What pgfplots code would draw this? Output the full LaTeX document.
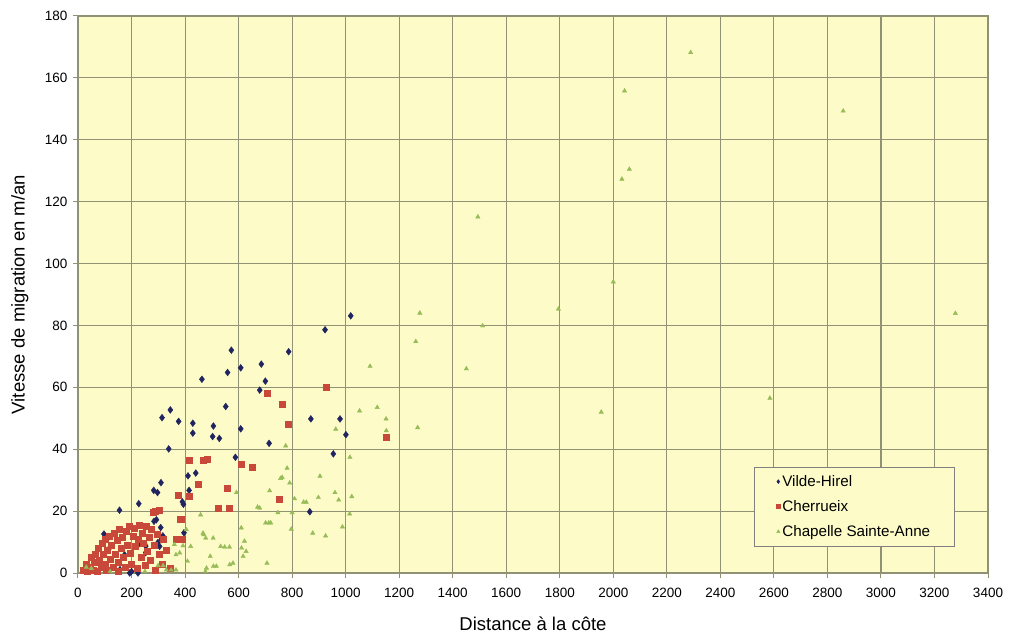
\documentclass[border=0pt]{standalone}
\usepackage{fontspec}
\setmainfont{Liberation Sans}
\usepackage{pgfplots}
\pgfplotsset{compat=1.18}
\definecolor{bgy}{RGB}{253,252,200}
\definecolor{gridc}{RGB}{145,145,118}
\definecolor{vh}{RGB}{32,36,96}
\definecolor{ch}{RGB}{200,72,58}
\definecolor{csa}{RGB}{152,188,88}
\begin{document}
\begin{tikzpicture}
\begin{axis}[
  scale only axis, width=910pt, height=557pt,
  xmin=0, xmax=3400, ymin=0, ymax=180,
  xtick={0,200,400,600,800,1000,1200,1400,1600,1800,2000,2200,2400,2600,2800,3000,3200,3400},
  ytick={0,20,40,60,80,100,120,140,160,180},
  grid=major, major grid style={gridc, line width=1.1pt},
  axis background/.style={fill=bgy},
  axis line style={gridc, line width=1.2pt},
  tick align=outside, major tick length=5pt, tick style={gridc, line width=1pt},
  xtick pos=left, ytick pos=left,
  /pgf/number format/assume math mode=true,
  /pgf/number format/1000 sep={},
  ticklabel style={font=\fontsize{13.5}{16}\selectfont},
  xticklabel style={yshift=-7pt},
  yticklabel style={xshift=-2pt},
  xlabel={Distance à la côte},
  ylabel={Vitesse de migration en m/an},
  label style={font=\fontsize{18.5}{22}\selectfont},
  xlabel style={at={(rel axis cs:0.5,-0.091)}, anchor=center},
  ylabel style={at={(rel axis cs:-0.064,0.5)}, anchor=center},
  legend style={at={(rel axis cs:0.743,0.19)}, anchor=north west, draw=gray, fill=bgy,
    font=\fontsize{15.2}{18}\selectfont, row sep=8.5pt, inner xsep=22pt, inner ysep=6pt},
  legend cell align=left,
  legend image code/.code={\draw[#1, mark size=2pt] plot coordinates {(0cm,0cm)};},
]
\addplot[only marks, mark=diamond*, mark size=3.4pt, color=vh] coordinates {
(97,12.6)(114,11.5)(118,8.1)(155,20.3)(157,1.1)(174,5.9)(193,0)(200,0.5)(224,0)
(227,22.4)(228,9.5)(249,9.4)(253,8.7)(253,6.6)(283,26.7)(284,16.7)(293,17.2)
(297,26.0)(298,9.8)(305,8.6)(309,14.7)(310,29.2)(311,10.8)(317,12.0)(339,40.1)
(345,52.7)(314,50.2)(376,49.0)(390,23.0)(394,22.2)(396,13)(411,31.4)(415,26.7)
(429,48.4)(429,45.2)(440,32.3)(463,62.6)(503,44.1)(506,47.5)(528,43.5)(552,53.8)
(559,64.8)(573,72.0)(588,37.4)(608,66.3)(608,46.6)(679,59.1)(685,67.5)(700,62.0)
(714,41.9)(787,71.5)(866,19.8)(870,49.8)(923,78.6)(954,38.5)(979,49.8)(1001,44.7)
(1019,83.1)
};
\addlegendentry{Vilde-Hirel}
\addplot[only marks, mark=square*, mark size=3pt, color=ch] coordinates {
(20,1)(30,3)(35,0.5)(45,2)(50,5)(55,1)(60,3.5)(65,6)(70,0.5)(75,8)(80,4)(85,2)
(90,9.5)(95,6)(100,11)(100,3)(105,1)(110,7.5)(115,12)(120,4.5)(125,9)(130,2)
(135,13)(140,6)(145,10.5)(150,0.5)(150,3.5)(155,14)(160,8)(165,11.5)(170,5)(175,2)
(180,13.5)(185,9)(190,15)(195,6.5)(200,3)(205,12)(210,14.5)(215,8.5)(220,1.5)
(225,11)(230,15.5)(235,5)(240,13)(245,9.5)(250,2.5)(255,15)(260,7)(265,11.5)
(270,4)(275,14)(280,19.7)(285,9)(287,20.1)(290,1)(295,12.5)(302,20.2)(305,6)
(315,3)(320,11)(330,7.5)(345,1.5)(367,10.8)(374,25.3)(383,17.5)(387,17.3)(390,11)
(415,24.7)(415,36.3)(449,28.7)(467,36.6)(483,36.8)(523,21.0)(556,27.4)(564,20.8)
(610,35.3)(652,34.1)(708,58.1)(750,24.0)(763,54.6)(787,48.2)(928,60.0)(1150,44)
};
\addlegendentry{Cherrueix}
\addplot[only marks, mark=triangle*, mark size=2.5pt, color=csa] coordinates {
(31,1.9)(50,1.5)(120,0.5)(250,0.5)(299,2.4)(318,2.4)(330,1)(348,1)(360,9.2)
(366,5.9)(366,1)(380,6.5)(392,8.8)(405,14.0)(409,3.8)(421,8.6)(458,18.8)(467,12.9)
(470,12.4)(476,0.5)(477,11.3)(480,1.6)(494,5.4)(505,11.3)(506,2.2)(517,2.2)
(533,8.6)(548,8.4)(566,8.4)(567,2.7)(579,3.2)(592,26.0)(610,14.6)(611,8.1)
(617,5.4)(622,10.3)(628,7.0)(671,21.3)(679,21.0)(701,16.2)(706,3.2)(713,16.2)
(720,16.2)(716,26.6)(747,19.5)(757,30.6)(763,30.9)(776,41.1)(781,33.9)(791,29.1)
(797,14.2)(800,19.5)(809,24.0)(843,22.9)(853,22.9)(877,12.9)(898,24.4)(904,31.3)
(925,12.0)(960,26.0)(963,46.5)(974,23.6)(988,14.9)(1015,19.1)(1016,37.4)
(1023,24.7)(1052,52.4)(1091,66.8)(1118,53.5)(1151,49.8)(1152,46)(1262,74.8)
(1269,47.0)(1277,84.0)(1451,66.0)(1494,115.1)(1512,79.9)(1795,85.3)(1955,52)
(2000,94.1)(2032,127.3)(2042,155.8)(2060,130.5)(2289,168.2)(2585,56.5)
(2859,149.3)(3278,83.9)
};
\addlegendentry{Chapelle Sainte-Anne}
\end{axis}
\pgfresetboundingbox
\path[use as bounding box] ([shift={(-78pt,-67pt)}]current axis.south west) rectangle ([shift={(23pt,16pt)}]current axis.north east);
\end{tikzpicture}
\end{document}
